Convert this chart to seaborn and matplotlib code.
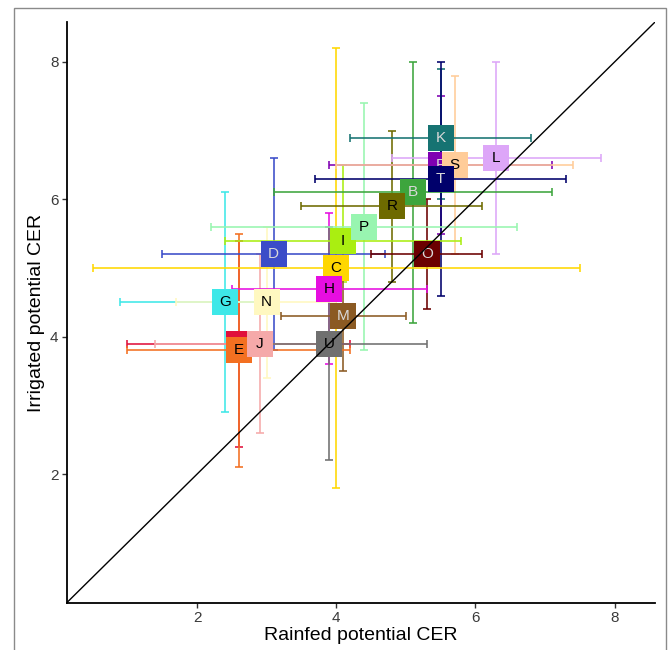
import matplotlib
matplotlib.use("Agg")
import matplotlib.pyplot as plt
import seaborn as sns
import pandas as pd
from matplotlib.patches import Rectangle

# ---- data ----
labels = ["A", "B", "C", "D", "E", "F", "G", "H", "I", "J",
          "K", "L", "M", "N", "O", "P", "R", "S", "T", "U"]
rainfed = [2.6, 5.1, 4.0, 3.1, 2.6, 5.5, 2.4, 3.9, 4.1, 2.9,
           5.5, 6.3, 4.1, 3.0, 5.3, 4.4, 4.8, 5.7, 5.5, 3.9]
irrigated = [3.9, 6.1, 5.0, 5.2, 3.8, 6.5, 4.5, 4.7, 5.4, 3.9,
             6.9, 6.6, 4.3, 4.5, 5.2, 5.6, 5.9, 6.5, 6.3, 3.9]
rainfed_lo = [1.0, 3.1, 0.5, 1.5, 1.0, 3.9, 0.9, 2.5, 2.4, 1.4,
              4.2, 4.8, 3.2, 1.7, 4.5, 2.2, 3.5, 4.0, 3.7, 2.9]
rainfed_hi = [4.2, 7.1, 7.5, 4.7, 4.2, 7.1, 3.0, 5.3, 5.8, 3.8,
              6.8, 7.8, 5.0, 4.0, 6.1, 6.6, 6.1, 7.4, 7.3, 5.3]
irrigated_lo = [2.4, 4.2, 1.8, 3.8, 2.1, 5.5, 2.9, 3.6, 4.8, 2.6,
                6.0, 5.2, 3.5, 3.4, 4.4, 3.8, 4.8, 5.2, 4.6, 2.2]
irrigated_hi = [5.4, 8.0, 8.2, 6.6, 5.5, 7.5, 6.1, 5.8, 6.5, 5.2,
                7.9, 8.0, 5.0, 5.6, 6.0, 7.4, 7.0, 7.8, 8.0, 5.6]
colors = ["#E0103C", "#3DA53D", "#FFD700", "#3B4CC8", "#F37021",
          "#7F00B2", "#3EE8E8", "#E60EE0", "#AAEE11", "#F5A9A9",
          "#167372", "#DDA6F8", "#8B5A23", "#FFF8C0", "#6B0000",
          "#98F5B0", "#6E6A00", "#FFCC99", "#00006B", "#707070"]
text_colors = ["black", "#d9d9d9", "black", "#d9d9d9", "black",
               "#d9d9d9", "black", "black", "black", "black",
               "#d9d9d9", "black", "#d9d9d9", "black", "#d9d9d9",
               "black", "black", "black", "#d9d9d9", "black"]

df = pd.DataFrame({
    "label": labels, "rainfed": rainfed, "irrigated": irrigated,
    "xlo": rainfed_lo, "xhi": rainfed_hi,
    "ylo": irrigated_lo, "yhi": irrigated_hi,
})

sns.set_theme(style="ticks")
plt.rcParams["font.family"] = ["Liberation Sans", "DejaVu Sans"]

fig = plt.figure(figsize=(6.69, 6.5), dpi=100)
ax = fig.add_axes([0.100, 0.0723, 0.879, 0.8937])

# vertical error bars
for i, r in df.iterrows():
    ax.errorbar(r["rainfed"], r["irrigated"],
                yerr=[[r["irrigated"] - r["ylo"]], [r["yhi"] - r["irrigated"]]],
                fmt="none", ecolor=colors[i], elinewidth=1.15, capsize=3.2,
                capthick=1.15, zorder=2)
# horizontal error bars
for i, r in df.iterrows():
    ax.errorbar(r["rainfed"], r["irrigated"],
                xerr=[[r["rainfed"] - r["xlo"]], [r["xhi"] - r["rainfed"]]],
                fmt="none", ecolor=colors[i], elinewidth=1.15, capsize=3.2,
                capthick=1.15, zorder=2.5)

# squares, drawn in label order
for i, r in df.iterrows():
    sns.scatterplot(data=df.iloc[[i]], x="rainfed", y="irrigated",
                    color=colors[i], marker="s", s=330, linewidth=0,
                    legend=False, ax=ax, zorder=3 + i * 0.01)
    ax.text(r["rainfed"], r["irrigated"], r["label"], ha="center",
            va="center", fontsize=11, color=text_colors[i],
            zorder=3 + i * 0.01 + 0.005)

ax.axline((0, 0), (1, 1), color="black", lw=1.0, zorder=5)

ax.set_xlim(0.13, 8.58)
ax.set_ylim(0.124, 8.58)
ax.set_xticks([2, 4, 6, 8])
ax.set_yticks([2, 4, 6, 8])
ax.set_xlabel("Rainfed potential CER", fontsize=14, color="black", labelpad=1)
ax.set_ylabel("Irrigated potential CER", fontsize=14, color="black", labelpad=4)
ax.tick_params(axis="both", labelsize=11, labelcolor="#3a3a3a",
               length=3.5, width=1.0, color="#333333", pad=2.5)
for s in ["top", "right"]:
    ax.spines[s].set_visible(False)
for s in ["left", "bottom"]:
    ax.spines[s].set_linewidth(1.3)
    ax.spines[s].set_color("black")

# outer grey frame
fig.patches.append(Rectangle((14 / 669, -0.05), (666 - 14) / 669, 1.05 - 8 / 650,
                             transform=fig.transFigure, fill=False,
                             edgecolor="#8a8a8a", linewidth=1.0))

fig.savefig("out.png", dpi=100)
